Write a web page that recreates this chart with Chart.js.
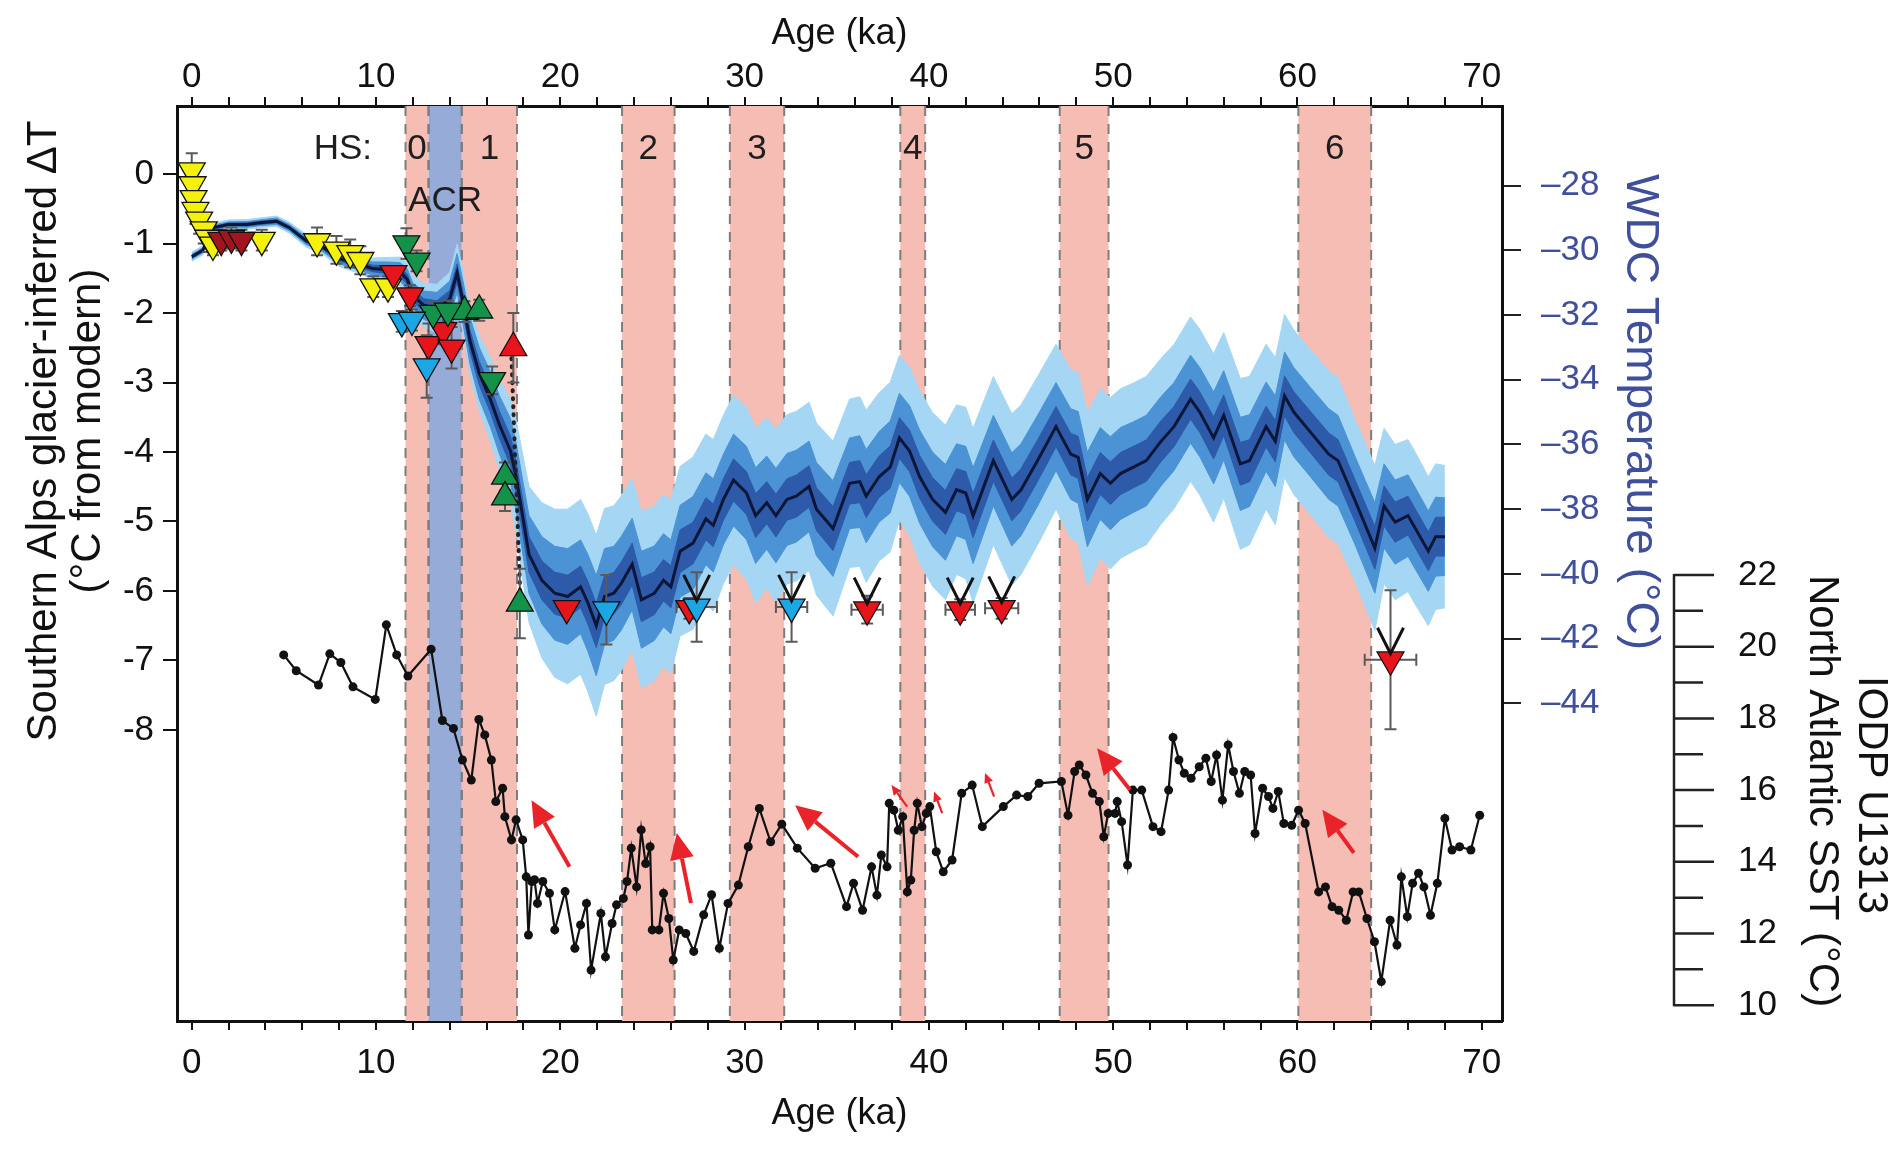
<!DOCTYPE html>
<html><head><meta charset="utf-8">
<script src="https://cdn.jsdelivr.net/npm/chart.js@4.4.1/dist/chart.umd.min.js"></script>
<style>html,body{margin:0;padding:0;background:#fff;}#wrap{width:1902px;height:1151px;}</style>
</head><body><div id="wrap"><canvas id="c" width="1902" height="1151"></canvas></div>
<script>
const FONT = '"Liberation Sans", Arial, Helvetica, sans-serif';

// ---- ticks / categories ----
const ageTicks = [0,2,4,6,8,10,12,14,16,18,20,22,24,26,28,30,32,34,36,38,40,42,44,46,48,50,52,54,56,58,60,62,64,66,68,70];
const ageLabels = [0,10,20,30,40,50,60,70];
const dTTicks = [0,-1,-2,-3,-4,-5,-6,-7,-8];
const wdcTicks = [-28,-30,-32,-34,-36,-38,-40,-42,-44];
const sstTicks = [10,12,14,16,18,20,22];
const sstMinorTicks = [11,13,15,17,19,21];

// ---- Heinrich stadials ----
const hsBands = [[11.6,12.85],[14.65,17.65],[23.35,26.2],[29.2,32.15],[38.45,39.8],[47.1,49.75],[60.05,64.0]];
const hsNames = ['0','1','2','3','4','5','6'];
const acrBand = [12.85,14.65];

// ---- WDC temperature ----
const wdcAge = [0.0,0.3,0.6,0.9,1.2,2.0,3.0,3.7,4.6,5.3,6.2,7.1,8.0,8.9,9.8,10.6,11.3,11.7,12.0,12.6,13.3,14.0,14.4,14.65,15.1,15.6,16.2,16.7,17.3,17.6,18.3,19.0,19.7,20.4,21.1,21.5,21.95,22.4,22.9,23.3,23.9,24.4,25.1,25.6,26.0,26.5,27.2,27.9,28.3,28.85,29.4,30.1,30.6,31.2,31.7,32.3,32.8,33.5,33.9,34.8,35.7,36.25,36.6,37.3,37.9,38.4,38.95,39.5,40.2,40.9,41.5,42.0,42.4,43.5,44.5,45.0,45.9,46.9,47.7,48.1,48.6,49.3,49.85,50.4,51.1,51.8,52.6,53.3,54.2,54.7,55.45,56.0,56.9,57.4,58.3,58.8,59.3,59.8,60.75,61.7,62.2,63.1,64.2,64.7,65.3,66.0,66.4,67.1,67.5,68.0];
const wdcTemp = [-30.2,-30.1,-30.0,-29.6,-29.3,-29.2,-29.2,-29.15,-29.1,-29.3,-29.7,-29.9,-30.25,-30.4,-30.56,-30.6,-30.66,-30.9,-31.4,-31.7,-31.8,-31.5,-30.7,-31.4,-32.8,-33.8,-34.6,-35.4,-36.2,-37.0,-39.4,-40.2,-40.6,-40.7,-40.4,-40.9,-41.6,-40.7,-40.6,-40.3,-39.7,-40.8,-40.6,-40.2,-40.4,-39.3,-39.05,-38.3,-38.5,-37.7,-37.1,-37.5,-38.2,-37.8,-38.2,-37.7,-37.6,-37.3,-38.0,-38.6,-37.2,-37.15,-37.6,-37.0,-36.7,-35.8,-36.2,-37.0,-37.7,-38.1,-37.4,-37.5,-38.2,-36.5,-37.7,-37.4,-36.5,-35.45,-36.3,-36.4,-37.7,-36.9,-37.2,-36.9,-36.7,-36.5,-35.9,-35.45,-34.6,-35.0,-35.8,-35.1,-36.6,-36.5,-35.45,-35.9,-34.5,-35.0,-35.65,-36.3,-36.5,-37.7,-39.2,-37.9,-38.4,-38.2,-38.6,-39.3,-38.85,-38.85];
const wdcInner = [0.04,0.04,0.04,0.04,0.04,0.04,0.05,0.05,0.05,0.05,0.06,0.07,0.08,0.09,0.1,0.12,0.14,0.16,0.18,0.2,0.24,0.26,0.28,0.3,0.33,0.36,0.4,0.42,0.45,0.48,0.55,0.6,0.65,0.66,0.64,0.66,0.68,0.65,0.64,0.66,0.65,0.68,0.66,0.64,0.65,0.66,0.64,0.65,0.66,0.64,0.65,0.66,0.68,0.65,0.66,0.64,0.65,0.64,0.66,0.68,0.64,0.65,0.66,0.64,0.65,0.63,0.64,0.66,0.67,0.68,0.65,0.66,0.68,0.64,0.66,0.65,0.64,0.62,0.64,0.65,0.67,0.65,0.66,0.65,0.64,0.64,0.63,0.62,0.62,0.63,0.65,0.63,0.66,0.65,0.63,0.64,0.62,0.63,0.64,0.65,0.65,0.64,0.66,0.62,0.62,0.6,0.6,0.6,0.6,0.6];
const wdcMid = [0.08,0.08,0.08,0.08,0.08,0.08,0.09,0.09,0.1,0.1,0.12,0.14,0.16,0.18,0.2,0.24,0.28,0.32,0.38,0.44,0.5,0.55,0.6,0.65,0.72,0.8,0.85,0.9,1.0,1.05,1.2,1.35,1.45,1.48,1.45,1.5,1.55,1.48,1.45,1.45,1.42,1.5,1.46,1.44,1.45,1.42,1.44,1.42,1.44,1.4,1.42,1.44,1.48,1.44,1.46,1.42,1.42,1.4,1.44,1.48,1.4,1.42,1.44,1.4,1.42,1.38,1.4,1.44,1.46,1.48,1.42,1.44,1.48,1.4,1.44,1.42,1.4,1.36,1.4,1.42,1.46,1.42,1.44,1.42,1.4,1.4,1.38,1.36,1.36,1.38,1.42,1.38,1.44,1.42,1.38,1.4,1.36,1.38,1.38,1.4,1.4,1.36,1.4,1.3,1.3,1.26,1.26,1.24,1.22,1.2];
const wdcOuter = [0.14,0.14,0.14,0.14,0.14,0.14,0.15,0.15,0.16,0.17,0.2,0.22,0.25,0.28,0.32,0.38,0.45,0.52,0.6,0.68,0.75,0.82,0.9,0.95,1.05,1.15,1.3,1.4,1.6,1.75,2.1,2.4,2.6,2.7,2.7,2.75,2.8,2.72,2.7,2.7,2.65,2.72,2.7,2.66,2.68,2.62,2.66,2.62,2.65,2.6,2.62,2.66,2.7,2.64,2.68,2.62,2.62,2.6,2.66,2.7,2.6,2.62,2.66,2.6,2.62,2.55,2.6,2.66,2.68,2.7,2.62,2.65,2.7,2.6,2.65,2.62,2.6,2.55,2.6,2.62,2.68,2.62,2.65,2.62,2.6,2.6,2.56,2.54,2.54,2.56,2.6,2.56,2.64,2.6,2.55,2.58,2.52,2.54,2.55,2.58,2.56,2.5,2.55,2.4,2.4,2.35,2.35,2.3,2.25,2.2];

// ---- IODP U1313 SST ----
const sstAge = [4.99,5.67,6.88,7.49,8.09,8.75,9.96,10.56,11.12,11.73,12.99,13.6,14.2,14.69,15.17,15.58,15.9,16.26,16.5,16.87,16.99,17.35,17.6,17.96,18.15,18.27,18.45,18.6,18.76,19.05,19.41,19.7,20.26,20.79,21.1,21.42,21.67,22.2,22.45,22.81,23.05,23.42,23.62,23.85,24.14,24.39,24.63,24.87,24.99,25.35,25.6,25.89,26.13,26.45,26.81,27.24,27.78,28.21,28.63,29.1,29.66,30.2,30.8,31.41,32.02,32.86,33.83,34.68,35.53,35.91,36.4,36.89,37.18,37.42,37.73,37.85,38.1,38.34,38.58,38.83,39.02,39.2,39.37,39.62,39.86,40.05,40.4,40.78,41.26,41.78,42.35,42.9,44.04,44.76,45.37,45.98,47.19,47.55,47.91,48.16,48.52,48.88,49.25,49.49,49.73,50.1,50.22,50.46,50.78,51.07,51.55,52.16,52.6,53.01,53.25,53.57,53.86,54.23,54.67,55.03,55.32,55.61,55.93,56.24,56.53,56.85,57.14,57.46,57.7,58.11,58.43,58.67,58.96,59.26,59.69,60.06,60.42,61.15,61.52,61.88,62.24,62.65,63.02,63.33,63.77,64.18,64.55,65.03,65.4,65.64,65.96,66.25,66.57,66.86,67.22,67.59,68.0,68.39,68.8,69.41,69.89];
const sstVal = [19.77,19.33,18.93,19.80,19.56,18.88,18.53,20.61,19.77,19.18,19.93,17.94,17.72,16.84,16.28,17.97,17.54,16.84,15.68,16.05,15.26,14.61,15.17,14.61,13.58,11.96,13.45,13.5,12.84,13.45,13.12,12.1,13.17,11.59,12.24,12.84,10.98,12.56,11.35,12.28,12.8,12.98,13.45,14.38,13.3,14.89,13.95,14.42,12.1,12.1,13.12,12.42,11.26,12.1,12.0,11.5,12.52,13.08,11.59,12.84,13.35,14.42,15.49,14.56,15.05,14.38,13.82,13.96,12.75,13.4,12.65,13.86,13.07,14.19,13.86,15.63,15.44,14.88,15.26,13.16,13.49,14.88,15.63,14.98,15.35,15.54,14.28,13.72,14.05,15.91,16.14,14.98,15.54,15.86,15.82,16.19,16.24,15.3,16.52,16.7,16.42,15.91,15.68,14.7,15.35,15.35,15.68,15.12,13.91,16.0,16.0,14.98,14.84,16.0,17.47,16.84,16.47,16.33,16.65,16.89,16.24,16.98,15.72,17.26,16.52,15.91,16.52,16.42,14.79,16.05,15.82,15.49,15.96,15.07,15.02,15.44,15.07,13.16,13.3,12.75,12.65,12.37,13.16,13.16,12.42,11.77,10.66,12.37,11.68,13.58,12.47,13.4,13.68,13.3,12.51,13.4,15.21,14.33,14.42,14.33,15.3];

// ---- red arrows on SST ----
const arrowFromAge = [20.5,27.09,36.16,38.82,40.72,43.54,50.92,63.06];
const arrowFromSST = [13.86,12.85,14.14,15.54,15.36,15.82,16.0,14.25];
const arrowToAge = [18.44,26.32,32.74,37.97,40.28,43.05,49.13,61.35];
const arrowToSST = [15.72,14.8,15.58,16.14,15.96,16.48,17.17,15.45];
const arrowBig = [1,1,1,0,0,0,1,1];

// ---- Southern Alps glacier-inferred dT ----
const yelAge = [0.0,0.05,0.1,0.2,0.4,0.65,0.9,1.15,3.8,6.8,7.85,8.6,9.15,9.85,10.65];
const yelVal = [0.05,-0.15,-0.35,-0.52,-0.66,-0.8,-0.92,-1.02,-0.95,-0.97,-1.09,-1.14,-1.24,-1.62,-1.62];
const yelErr = [0.25,0.2,0.2,0.2,0.2,0.2,0.2,0.15,0.15,0.2,0.2,0.2,0.2,0.15,0.15];
const dredAge = [1.6,2.15,2.7];
const dredVal = [-0.95,-0.92,-0.95];
const dredErr = [0.15,0.15,0.15];
const redAge = [10.95,11.85,12.85,13.65,14.1,20.35,27.0,36.65,41.7,43.95,65.05];
const redVal = [-1.43,-1.75,-2.45,-2.25,-2.5,-6.25,-6.25,-6.27,-6.27,-6.25,-6.99];
const redErr = [0.1,0.15,0.3,0.2,0.3,0.1,0.15,0.2,0.15,0.15,1.0];
const redXErr = [0,0,0,0,0,0,0,0.85,0.8,0.9,1.4];
const cyanAge = [11.4,11.95,12.75,22.5,27.4,32.55];
const cyanVal = [-2.12,-2.1,-2.77,-6.27,-6.23,-6.23];
const cyanErr = [0.15,0.15,0.45,0.5,0.5,0.5];
const cyanXErr = [0,0,0,0,1.1,0.85];
const gDownAge = [11.65,12.2,13.1,13.9,16.3];
const gDownVal = [-1.0,-1.25,-2.0,-1.97,-2.97];
const gDownErr = [0.22,0.15,0.15,0.15,0.2];
const gUpAge = [14.8,15.6,17.0,17.0,17.8];
const gUpVal = [-1.98,-1.96,-4.35,-4.65,-6.18];
const gUpErr = [0.15,0.15,0.2,0.2,0.5];
const rUpAge = [17.45];
const rUpVal = [-2.5];
const rUpErr = [0.5];
const limitAge = [27.4,32.55,36.65,41.7,43.95,65.05];
const limitVal = [-6.23,-6.23,-6.27,-6.27,-6.25,-6.99];
const dottedAge = [17.35,17.85];
const dottedVal = [-2.65,-6.2];

// ---- helpers ----
const pts = (xs, ys) => xs.map((x, i) => ({x, y: ys[i]}));
const band = (sign, w) => wdcAge.map((a, i) => ({x: a, y: wdcTemp[i] + sign * w[i]}));
const WDC_BLUE = '#3f4f9c';

function markerDs(label, xs, ys, color, down, order) {
  return {label, data: pts(xs, ys), yAxisID: 'yL', showLine: false, order,
    pointStyle: 'triangle', pointRotation: down ? 180 : 0, pointRadius: 15.5,
    pointBackgroundColor: color, pointBorderColor: '#111', pointBorderWidth: 1.3};
}
function bandDs(id, data, color, order, fillNext) {
  return {id, data, yAxisID: 'yW', order, pointRadius: 0, borderWidth: 1,
    borderColor: color, backgroundColor: color, fill: fillNext ? '+1' : false, tension: 0};
}

const errGroups = [
  {a: yelAge, v: yelVal, e: yelErr},
  {a: dredAge, v: dredVal, e: dredErr},
  {a: redAge, v: redVal, e: redErr, xe: redXErr},
  {a: cyanAge, v: cyanVal, e: cyanErr, xe: cyanXErr},
  {a: gDownAge, v: gDownVal, e: gDownErr},
  {a: gUpAge, v: gUpVal, e: gUpErr},
  {a: rUpAge, v: rUpVal, e: rUpErr}
];

const bandsPlugin = {
  id: 'hsbands',
  beforeDatasetsDraw(chart) {
    const {ctx, chartArea: {top, bottom}, scales: {x}} = chart;
    ctx.save();
    ctx.fillStyle = '#f6bdb4';
    hsBands.forEach(([a, b]) => {
      const x0 = x.getPixelForValue(a), x1 = x.getPixelForValue(b);
      ctx.fillRect(x0, top, x1 - x0, bottom - top);
    });
    ctx.fillStyle = '#97abd9';
    const a0 = x.getPixelForValue(acrBand[0]), a1 = x.getPixelForValue(acrBand[1]);
    ctx.fillRect(a0, top, a1 - a0, bottom - top);
    ctx.strokeStyle = '#7d7d7d'; ctx.lineWidth = 2; ctx.setLineDash([10, 8]);
    const edges = [];
    hsBands.forEach(([a, b]) => { edges.push(a, b); });
    edges.push(acrBand[0], acrBand[1]);
    edges.forEach(e => {
      const px = x.getPixelForValue(e);
      ctx.beginPath(); ctx.moveTo(px, top); ctx.lineTo(px, bottom); ctx.stroke();
    });
    ctx.restore();
  }
};

function drawArrow(ctx, x0, y0, x1, y1, lw, hl, hw) {
  const ang = Math.atan2(y1 - y0, x1 - x0);
  const bx = x1 - hl * Math.cos(ang), by = y1 - hl * Math.sin(ang);
  ctx.lineWidth = lw;
  ctx.beginPath(); ctx.moveTo(x0, y0); ctx.lineTo(bx, by); ctx.stroke();
  ctx.beginPath(); ctx.moveTo(x1, y1);
  ctx.lineTo(bx + hw / 2 * Math.sin(ang), by - hw / 2 * Math.cos(ang));
  ctx.lineTo(bx - hw / 2 * Math.sin(ang), by + hw / 2 * Math.cos(ang));
  ctx.closePath(); ctx.fill();
}

const overlayPlugin = {
  id: 'overlay',
  afterDatasetDraw(chart, args) {
    const ds = chart.data.datasets[args.index];
    const {ctx, scales: {x, yL, yS}} = chart;
    if (ds.id === 'sst') {
      ctx.save();
      ctx.strokeStyle = '#e8242a'; ctx.fillStyle = '#e8242a'; ctx.lineCap = 'butt';
      arrowFromAge.forEach((a, i) => {
        const big = arrowBig[i] === 1;
        drawArrow(ctx, x.getPixelForValue(a), yS.getPixelForValue(arrowFromSST[i]),
          x.getPixelForValue(arrowToAge[i]), yS.getPixelForValue(arrowToSST[i]),
          big ? 4 : 2.2, big ? 26 : 10, big ? 24 : 9);
      });
      ctx.restore();
    }
    if (ds.id === 'dotted') {
      ctx.save();
      ctx.strokeStyle = '#5a5a5a'; ctx.lineWidth = 2;
      const cap = 6;
      errGroups.forEach(g => {
        g.a.forEach((a, i) => {
          const px = x.getPixelForValue(a), py = yL.getPixelForValue(g.v[i]);
          const y0 = yL.getPixelForValue(g.v[i] + g.e[i]), y1 = yL.getPixelForValue(g.v[i] - g.e[i]);
          ctx.beginPath();
          ctx.moveTo(px, y0); ctx.lineTo(px, y1);
          ctx.moveTo(px - cap, y0); ctx.lineTo(px + cap, y0);
          ctx.moveTo(px - cap, y1); ctx.lineTo(px + cap, y1);
          if (g.xe && g.xe[i] > 0) {
            const x0 = x.getPixelForValue(a - g.xe[i]), x1 = x.getPixelForValue(a + g.xe[i]);
            ctx.moveTo(x0, py); ctx.lineTo(x1, py);
            ctx.moveTo(x0, py - cap); ctx.lineTo(x0, py + cap);
            ctx.moveTo(x1, py - cap); ctx.lineTo(x1, py + cap);
          }
          ctx.stroke();
        });
      });
      ctx.restore();
    }
  },
  afterDatasetsDraw(chart) {
    const {ctx, scales: {x, yL}} = chart;
    ctx.save();
    ctx.strokeStyle = '#111'; ctx.lineWidth = 3; ctx.lineJoin = 'miter';
    limitAge.forEach((a, i) => {
      const px = x.getPixelForValue(a), py = yL.getPixelForValue(limitVal[i]);
      ctx.beginPath();
      ctx.moveTo(px - 13, py - 32); ctx.lineTo(px, py - 6); ctx.lineTo(px + 13, py - 32);
      ctx.stroke();
    });
    ctx.restore();
  },
  afterDraw(chart) {
    const {ctx, chartArea: {top}, scales: {x, yS}} = chart;
    ctx.save();
    // HS labels
    ctx.fillStyle = '#1e1e1e'; ctx.textAlign = 'center'; ctx.textBaseline = 'middle';
    ctx.font = '35px ' + FONT;
    ctx.fillText('HS:', x.getPixelForValue(8.2), top + 43);
    hsBands.forEach(([a, b], i) => ctx.fillText(hsNames[i], x.getPixelForValue((a + b) / 2), top + 43));
    ctx.fillText('ACR', x.getPixelForValue((acrBand[0] + acrBand[1]) / 2), top + 95);
    // left title
    ctx.fillStyle = '#111';
    ctx.font = '42px ' + FONT;
    ctx.save(); ctx.translate(44, 431); ctx.rotate(-Math.PI / 2);
    ctx.fillText('Southern Alps glacier-inferred \u0394T', 0, 0); ctx.restore();
    ctx.save(); ctx.translate(88, 431); ctx.rotate(-Math.PI / 2);
    ctx.fillText('(\u00B0C from modern)', 0, 0); ctx.restore();
    // WDC title
    ctx.fillStyle = WDC_BLUE; ctx.font = '46px ' + FONT;
    ctx.save(); ctx.translate(1640, 412); ctx.rotate(Math.PI / 2);
    ctx.fillText('WDC Temperature (\u00B0C)', 0, 0); ctx.restore();
    // SST titles
    ctx.fillStyle = '#111'; ctx.font = '42px ' + FONT;
    ctx.save(); ctx.translate(1871, 795); ctx.rotate(Math.PI / 2);
    ctx.fillText('IODP U1313', 0, 0); ctx.restore();
    ctx.save(); ctx.translate(1822, 791); ctx.rotate(Math.PI / 2);
    ctx.fillText('North Atlantic SST (\u00B0C)', 0, 0); ctx.restore();
    // SST axis line and ticks
    const x0 = yS.left;
    ctx.strokeStyle = '#222'; ctx.lineWidth = 2.5;
    ctx.beginPath();
    ctx.moveTo(x0, yS.getPixelForValue(sstTicks[sstTicks.length - 1]) - 1);
    ctx.lineTo(x0, yS.getPixelForValue(sstTicks[0]) + 1);
    sstTicks.forEach(v => { const py = yS.getPixelForValue(v); ctx.moveTo(x0, py); ctx.lineTo(x0 + 40, py); });
    sstMinorTicks.forEach(v => { const py = yS.getPixelForValue(v); ctx.moveTo(x0, py); ctx.lineTo(x0 + 29, py); });
    ctx.stroke();
    ctx.restore();
  }
};

Chart.defaults.font.family = FONT;
Chart.defaults.color = '#111';

const tickFont = {size: 35, lineHeight: 1};
const xCommon = {
  type: 'linear', min: -0.8, max: 71.1, bounds: 'data',
  afterBuildTicks: s => { s.ticks = ageTicks.map(v => ({value: v})); },
  grid: {drawOnChartArea: false, drawTicks: true, tickLength: 9, color: '#111', lineWidth: 2},
  border: {display: true, color: '#111', width: 3}
};

new Chart(document.getElementById('c'), {
  type: 'line',
  data: {
    datasets: [
      markerDs('cyan', cyanAge, cyanVal, '#1ba7e6', true, 0),
      markerDs('greenDown', gDownAge, gDownVal, '#14924a', true, 0),
      markerDs('greenUp', gUpAge, gUpVal, '#14924a', false, 0),
      markerDs('redUp', rUpAge, rUpVal, '#e8141c', false, 0),
      markerDs('redDown', redAge, redVal, '#e8141c', true, 0),
      markerDs('darkRed', dredAge, dredVal, '#a3141e', true, 0),
      markerDs('yellow', yelAge, yelVal, '#f4f10c', true, 0),
      {id: 'dotted', data: pts(dottedAge, dottedVal), yAxisID: 'yL', order: 5, pointRadius: 0,
        borderColor: '#222', borderWidth: 4, borderDash: [1, 7], borderCapStyle: 'round', fill: false},
      {id: 'sst', data: pts(sstAge, sstVal), yAxisID: 'yS', order: 6, borderColor: '#111', borderWidth: 2.2,
        pointRadius: 4.5, pointBackgroundColor: '#111', pointBorderColor: '#111', pointBorderWidth: 0, fill: false, tension: 0},
      {id: 'wdc', data: pts(wdcAge, wdcTemp), yAxisID: 'yW', order: 7, borderColor: '#0c1638', borderWidth: 3,
        pointRadius: 0, fill: false, tension: 0},
      bandDs('innerHi', band(1, wdcInner), '#2d5aa9', 8, true),
      bandDs('innerLo', band(-1, wdcInner), '#2d5aa9', 8, false),
      bandDs('midHi', band(1, wdcMid), '#4b93d5', 9, true),
      bandDs('midLo', band(-1, wdcMid), '#4b93d5', 9, false),
      bandDs('outerHi', band(1, wdcOuter), '#a5d6f3', 10, true),
      bandDs('outerLo', band(-1, wdcOuter), '#a5d6f3', 10, false)
    ]
  },
  options: {
    responsive: false, animation: false, devicePixelRatio: 1, events: [],
    layout: {padding: 0},
    plugins: {legend: {display: false}, tooltip: {enabled: false}, title: {display: false}},
    scales: {
      x: Object.assign({}, xCommon, {
        position: 'bottom',
        afterFit: s => { s.height = 130; },
        ticks: {autoSkip: false, maxRotation: 0, padding: 16, font: tickFont, color: '#111',
          callback: v => ageLabels.includes(v) ? String(v) : ''},
        title: {display: true, text: 'Age (ka)', color: '#111', font: {size: 36, lineHeight: 1}, padding: {top: 0, bottom: 19}}
      }),
      x2: Object.assign({}, xCommon, {
        position: 'top',
        afterFit: s => { s.height = 106; },
        ticks: {autoSkip: false, maxRotation: 0, padding: 2, font: tickFont, color: '#111',
          callback: v => ageLabels.includes(v) ? String(v) : ''},
        title: {display: true, text: 'Age (ka)', color: '#111', font: {size: 36, lineHeight: 1}, padding: {top: 16, bottom: 0}}
      }),
      yL: {
        type: 'linear', position: 'left', min: -12.19, max: 0.98, bounds: 'data',
        afterBuildTicks: s => { s.ticks = dTTicks.map(v => ({value: v})); },
        afterFit: s => { s.width = 177; },
        ticks: {padding: 9, font: tickFont, color: '#111', callback: v => String(v)},
        grid: {drawOnChartArea: false, drawTicks: true, tickLength: 14, color: '#111', lineWidth: 2},
        border: {display: true, color: '#111', width: 3}
      },
      yW: {
        type: 'linear', position: 'right', weight: 0, min: -53.82, max: -25.54, bounds: 'data',
        afterBuildTicks: s => { s.ticks = wdcTicks.map(v => ({value: v})); },
        afterFit: s => { s.width = 172; },
        ticks: {padding: 20, font: tickFont, color: WDC_BLUE, callback: v => '\u2013' + Math.abs(v)},
        grid: {drawOnChartArea: false, drawTicks: true, tickLength: 19, color: '#222', lineWidth: 2},
        border: {display: true, color: '#111', width: 3}
      },
      yS: {
        type: 'linear', position: 'right', weight: 1, min: 9.56, max: 35.08, bounds: 'data',
        afterBuildTicks: s => { s.ticks = sstTicks.map(v => ({value: v})); },
        afterFit: s => { s.width = 228; },
        ticks: {padding: 64, font: tickFont, color: '#111', callback: v => String(v)},
        grid: {drawOnChartArea: false, drawTicks: false},
        border: {display: false}
      }
    }
  },
  plugins: [bandsPlugin, overlayPlugin]
});
</script>
</body></html>
